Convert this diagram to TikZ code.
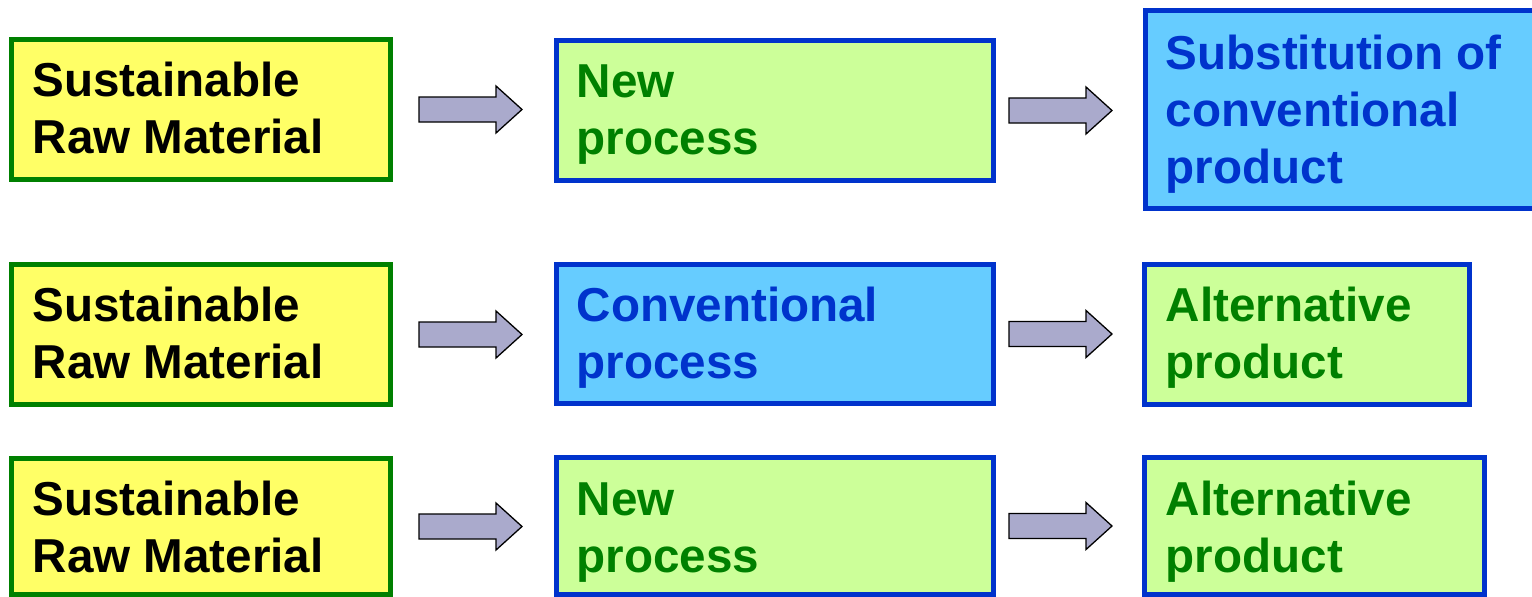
\documentclass[tikz,border=0pt]{standalone}
\usepackage{fontspec}
\setmainfont{Liberation Sans}
\usetikzlibrary{calc}

\definecolor{boxyellow}{HTML}{FFFF66}
\definecolor{boxgreen}{HTML}{CCFF99}
\definecolor{boxblue}{HTML}{66CCFF}
\definecolor{darkgreen}{HTML}{008000}
\definecolor{royal}{HTML}{0033CC}
\definecolor{arrowfill}{HTML}{AAAACC}

\tikzset{
  box/.style={rectangle, line width=5pt, inner sep=0pt, anchor=north west},
  rawbox/.style={box, draw=darkgreen, fill=boxyellow},
  greenbox/.style={box, draw=royal, fill=boxgreen},
  bluebox/.style={box, draw=royal, fill=boxblue},
  % outer box edges: left, top, right, bottom
  geom/.style n args={4}{minimum width={(#3-#1-5)*1pt}, minimum height={(#4-#2-5)*1pt}},
  label/.style={anchor=base west, inner sep=0pt,
    font=\fontsize{47.6}{57.5}\selectfont\bfseries},
  barrow/.style={draw=black, line width=1.3pt, fill=arrowfill, line join=miter},
}

\newcommand{\twolines}[2]{\parbox[t]{380pt}{\raggedright #1\\#2}}
\newcommand{\threelines}[3]{\parbox[t]{380pt}{\raggedright #1\\#2\\#3}}

\begin{document}
\begin{tikzpicture}[x=1pt, y=-1pt]
\useasboundingbox (0,0) rectangle (1532,597);

% ---- row 1 ----
\node[rawbox, geom={9}{37}{393}{182}] (y1) at (9,37) {};
\node[greenbox, geom={554}{38}{996}{183}] (n1) at (554,38) {};
\node[bluebox, geom={1143}{8}{1542}{211}] (s1) at (1143,8) {};

% ---- row 2 ----
\node[rawbox, geom={9}{262}{393}{407}] (y2) at (9,262) {};
\node[bluebox, geom={554}{262}{996}{406}] (c2) at (554,262) {};
\node[greenbox, geom={1142}{262}{1472}{407}] (a2) at (1142,262) {};

% ---- row 3 ----
\node[rawbox, geom={9}{456}{393}{597}] (y3) at (9,456) {};
\node[greenbox, geom={554}{455}{996}{597}] (n3) at (554,455) {};
\node[greenbox, geom={1142}{455}{1487}{597}] (a3) at (1142,455) {};

% ---- texts ----
\node[label, text=black]     (ty1) at ($(y1.north west)+(23.5,59)$) {\twolines{Sustainable}{Raw Material}};
\node[label, text=darkgreen] (tn1) at ($(n1.north west)+(22.5,59)$) {\twolines{New}{process}};
\node[label, text=royal]     (ts1) at ($(s1.north west)+(22.5,61)$) {\threelines{Substitution of}{conventional}{product}};

\node[label, text=black]     (ty2) at ($(y2.north west)+(23.5,59)$) {\twolines{Sustainable}{Raw Material}};
\node[label, text=royal]     (tc2) at ($(c2.north west)+(22.5,59)$) {\twolines{Conventional}{process}};
\node[label, text=darkgreen] (ta2) at ($(a2.north west)+(23.5,59)$) {\twolines{Alternative}{product}};

\node[label, text=black]     (ty3) at ($(y3.north west)+(23.5,59)$) {\twolines{Sustainable}{Raw Material}};
\node[label, text=darkgreen] (tn3) at ($(n3.north west)+(22.5,60)$) {\twolines{New}{process}};
\node[label, text=darkgreen] (ta3) at ($(a3.north west)+(23.5,60)$) {\twolines{Alternative}{product}};

% ---- block arrows between the boxes ----
\coordinate (p1) at ($(y1.east)+(26,0)$);
\coordinate (q1) at ($(n1.east)+(13,0)$);
\coordinate (p2) at ($(y2.east)+(26,0)$);
\coordinate (q2) at ($(c2.east)+(13,0)$);
\coordinate (p3) at ($(y3.east)+(26,0)$);
\coordinate (q3) at ($(n3.east)+(13,0)$);

\foreach \c in {p1,q1,p2,q2,p3,q3}{
  \draw[barrow, shift={(\c)}]
    (0,-12.5) -- (77,-12.5) -- (77,-23.5) -- (103,0)
    -- (77,23.5) -- (77,12.5) -- (0,12.5) -- cycle;
}
\end{tikzpicture}
\end{document}
